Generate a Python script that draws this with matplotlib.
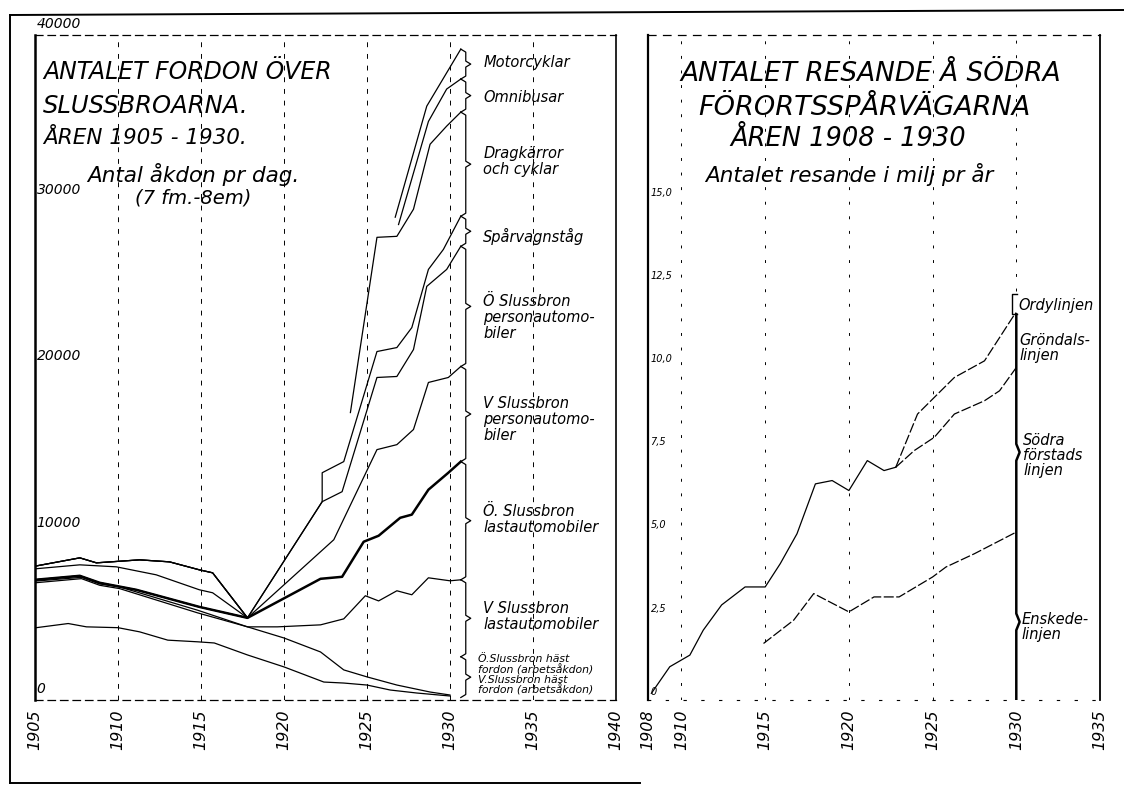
import matplotlib
matplotlib.use("Agg")
import matplotlib.pyplot as plt
from matplotlib.lines import Line2D
import numpy as np

W, H = 1124, 786
nan = np.nan

                 ## Data: vehicles per day over Slussbroarna (cumulative lines)
# the bundle before 1918 (top, middle and thick line)
pre_x_a = [1905, 1907.7, 1908.7, 1911.3, 1913.1, 1914.9, 1915.7, 1917.8]
pre_y_a = [8050, 8550, 8250, 8430, 8310, 7830, 7650, 4940]
pre_x_b = [1905, 1907.7, 1909.9, 1912.3, 1914.9, 1915.7, 1917.8]
pre_y_b = [7890, 8130, 8010, 7530, 6630, 6450, 4940]
pre_x_c = [1905, 1907.7, 1908.9, 1911.1, 1914.9, 1917.8]
pre_y_c = [7230, 7470, 7050, 6630, 5600, 4940]

hast_o_x = [1905, 1907, 1908.1, 1910, 1911.3, 1913, 1914.8, 1915.8, 1917.8,
            1920, 1922.4, 1923.6, 1925, 1926.4, 1928, 1930]
hast_o_y = [4340, 4600, 4400, 4350, 4100, 3600, 3500, 3430, 2710,
            1990, 1080, 1020, 900, 600, 420, 240]

hast_v_x = [1905, 1907.8, 1908.9, 1910.1, 1914.8, 1917.8, 1920, 1922.2,
            1923.6, 1925, 1926.8, 1928.8, 1930]
hast_v_y = [7050, 7300, 6900, 6700, 5240, 4400, 3730, 2890,
            1810, 1390, 900, 480, 300]

last_v_x = [1905, 1907.8, 1908.9, 1910.1, 1914.8, 1917.8, 1919.6, 1922.2, 1923.6,
            1924.9, 1925.7, 1926.8, 1927.7, 1928.7, 1930, 1930.65]
last_v_y = [7150, 7380, 6980, 6800, 5400, 4400, 4400, 4520, 4880,
            6270, 5960, 6570, 6330, 7350, 7170, 7230]

last_o_x = [1922.2, 1923.5, 1924.8, 1925.7, 1927, 1927.7, 1928.7, 1929.9, 1930.65]
last_o_y = [7290, 7410, 9520, 9880, 10960, 11150, 12650, 13670, 14340]

pers_v_x = [1923, 1925.6, 1926.8, 1927.8, 1928.7, 1929.9, 1930.65]
pers_v_y = [9640, 15060, 15360, 16270, 19100, 19400, 20060]

pers_o_x = [1922.3, 1923.5, 1925.6, 1926.8, 1927.8, 1928.6, 1929.8, 1930.65]
pers_o_y = [11930, 12530, 19400, 19460, 21080, 24880, 25900, 27290]

sparv_x = [1922.3, 1922.3, 1923.6, 1925.6, 1926.8, 1927.7, 1928.7, 1929.6, 1930.65]
sparv_y = [11930, 13670, 14340, 20960, 21200, 22400, 25900, 27100, 29100]

drag_x = [1924, 1925.6, 1926.8, 1927.8, 1928.8, 1929.8, 1930.65]
drag_y = [17290, 27830, 27890, 29520, 33430, 34520, 35360]

omni_x = [1926.9, 1928.7, 1929.8, 1930.65]
omni_y = [28600, 34800, 36750, 37350]

motor_x = [1926.7, 1928.6, 1930.65]
motor_y = [29040, 35720, 39150]

# brace bands at 1930 (lower, upper) and labels
band_lo = [37350, 35360, 29100, 27290, 20060, 14340, 7230, 2600, 150]
band_hi = [39150, 37350, 35360, 29100, 27290, 20060, 14340, 7230, 2600]
band_labels = ["Motorcyklar", "Omnibusar", "Dragkärror\noch cyklar", "Spårvagnståg",
               "Ö Slussbron\npersonautomo-\nbiler", "V Slussbron\npersonautomo-\nbiler",
               "Ö. Slussbron\nlastautomobiler", "V Slussbron\nlastautomobiler",
               "Ö.Slussbron häst\nfordon (arbetsåkdon)\nV.Slussbron häst\nfordon (arbetsåkdon)"]
band_text_y = [38370, 36270, 32410, 27890, 23010, 16870, 10840, 5000, 1500]

left_yticks = [0, 10000, 20000, 30000, 40000]
left_xticks = [1905, 1910, 1915, 1920, 1925, 1930, 1935, 1940]

                 ## Data: passengers on Södra förortsspårvägarna (milj per year)
trunk_x = [1908.2, 1909.3, 1910.5, 1911.3, 1912.4, 1913.8, 1915.0, 1915.9,
           1916.9, 1918.0, 1919.0, 1920.0, 1921.1, 1922.1, 1922.8]
trunk_y = [0.2, 1.0, 1.35, 2.1, 2.86, 3.4, 3.4, 4.1, 5.0, 6.5, 6.6, 6.3, 7.2, 6.9, 7.0]

upper_x = [1922.8, 1924.1, 1924.5, 1926.3, 1928.1, 1929.9, 1930.0]
upper_y = [7.0, 8.6, 8.8, 9.7, 10.2, 11.6, 11.65]

lower_x = [1922.8, 1923.9, 1925.1, 1926.3, 1928.1, 1929.0, 1930.0]
lower_y = [7.0, 7.5, 7.9, 8.6, 9.0, 9.3, 10.0]

enskede_x = [1914.9, 1916.7, 1917.9, 1920.0, 1921.5, 1923.0, 1925.0, 1925.8, 1927.5, 1930.0]
enskede_y = [1.7, 2.4, 3.2, 2.65, 3.1, 3.1, 3.7, 4.0, 4.4, 5.05]

right_yticks = [0, 2.5, 5, 7.5, 10, 12.5, 15]
right_ylabels = ["0", "2,5", "5,0", "7,5", "10,0", "12,5", "15,0"]
right_xticks = [1908, 1910, 1915, 1920, 1925, 1930, 1935]

plt.rcParams['font.family'] = ['DejaVu Sans']
plt.rcParams['font.style'] = 'italic'

fig = plt.figure(figsize=(W / 100, H / 100), dpi=100)
fig.patch.set_facecolor('white')


def px(x, y):
    return x / W, 1 - y / H


def fig_line(x0, y0, x1, y1, lw=1.4):
    a, b = px(x0, y0)
    c, d = px(x1, y1)
    fig.add_artist(Line2D([a, c], [b, d], color='k', lw=lw, transform=fig.transFigure))


def brace(ax, x, lo, hi, w, d, lw=0.9):
    m = (lo + hi) / 2
    xs = [x - w, x, x, x + w, x, x, x - w]
    ys = [hi, hi - d, m + d, m, m - d, lo + d, lo]
    ax.plot(xs, ys, color='k', lw=lw, clip_on=False)


# outer frame of the sheet
fig_line(10, 15, 1124, 10)
fig_line(10, 15, 10, 783)
fig_line(10, 783, 640, 783)

                 ## Left chart
ax1 = fig.add_axes([35 / W, 1 - 700 / H, 581 / W, 665 / H])
ax1.set_xlim(1905, 1940)
ax1.set_ylim(0, 40000)
ax1.set_xticks([])
ax1.set_yticks([])
ax1.spines['left'].set_linewidth(1.8)
ax1.spines['right'].set_linewidth(1.2)
for s in ['top', 'bottom']:
    ax1.spines[s].set_linestyle((0, (6, 4)))
    ax1.spines[s].set_linewidth(0.9)
for yr in left_xticks[1:-1]:
    ax1.axvline(yr, color='k', lw=0.7, ls=(0, (5, 7)))

lk = dict(color='k', lw=0.9)
ax1.plot(hast_o_x, hast_o_y, **lk)
ax1.plot(hast_v_x, hast_v_y, **lk)
ax1.plot(last_v_x, last_v_y, **lk)
ax1.plot(pre_x_c + last_o_x, pre_y_c + last_o_y, color='k', lw=1.8)
ax1.plot(pre_x_c + pers_v_x, pre_y_c + pers_v_y, **lk)
ax1.plot(pre_x_c + pers_o_x, pre_y_c + pers_o_y, **lk)
ax1.plot(pre_x_b + sparv_x, pre_y_b + sparv_y, **lk)
ax1.plot(pre_x_a + [nan] + drag_x, pre_y_a + [nan] + drag_y, **lk)
ax1.plot(pre_x_a + [nan] + omni_x, pre_y_a + [nan] + omni_y, **lk)
ax1.plot(pre_x_a + [nan] + motor_x, pre_y_a + [nan] + motor_y, **lk)

for lo, hi in zip(band_lo, band_hi):
    brace(ax1, 1930.95, lo, hi, 0.3, 180)
for i, (lab, ty) in enumerate(zip(band_labels, band_text_y)):
    small = i == len(band_labels) - 1
    ax1.text(1931.7 if small else 1932.0, ty, lab, fontsize=7.8 if small else 10.5,
             va='center', ha='left', linespacing=0.95 if small else 1.1)

for v in left_yticks:
    ax1.text(1905.1, v + 250, "%d" % v, fontsize=10, va='bottom', ha='left', clip_on=False)
for yr in left_xticks:
    ax1.text(yr, -600, str(yr), fontsize=11.5, rotation=90, va='top', ha='center', clip_on=False)

fig.text(*px(43, 72), "ANTALET FORDON ÖVER", fontsize=17, va='center')
fig.text(*px(43, 106), "SLUSSBROARNA.", fontsize=17.5, va='center')
fig.text(*px(43, 138), "ÅREN 1905 - 1930.", fontsize=15.5, va='center')
fig.text(*px(87, 175), "Antal åkdon pr dag.", fontsize=15.5, va='center')
fig.text(*px(135, 198), "(7 fm.-8em)", fontsize=14, va='center')

                 ## Right chart
ax2 = fig.add_axes([648 / W, 1 - 700 / H, 452 / W, 665 / H])
ax2.set_xlim(1908, 1935)
ax2.set_ylim(0, 20)
ax2.set_xticks([])
ax2.set_yticks([])
ax2.spines['left'].set_linewidth(1.6)
ax2.spines['right'].set_linewidth(1.3)
ax2.spines['top'].set_linestyle((0, (6, 6)))
ax2.spines['top'].set_linewidth(0.9)
ax2.spines['bottom'].set_linestyle((0, (2, 14)))
ax2.spines['bottom'].set_linewidth(0.8)
for yr in right_xticks[1:-2]:
    ax2.axvline(yr, color='k', lw=0.7, ls=(0, (3, 12)))
ax2.plot([1930, 1930], [12.3, 20], color='k', lw=0.7, ls=(0, (3, 12)))

dash = (0, (8, 2))
ax2.plot(trunk_x, trunk_y, color='k', lw=0.9)
ax2.plot(upper_x, upper_y, color='k', lw=0.9, ls=dash)
ax2.plot(lower_x, lower_y, color='k', lw=0.9, ls=dash)
ax2.plot(enskede_x, enskede_y, color='k', lw=0.9, ls=dash)

# the 1930 bracket line
ax2.plot([1930, 1930, 1930.2, 1930, 1930, 1930.2, 1930, 1930],
         [0, 2.1, 2.35, 2.6, 7.2, 7.45, 7.7, 11.6], color='k', lw=1.8)
ax2.plot([1930.05, 1929.75, 1929.75, 1930.05], [12.2, 12.2, 11.6, 11.6], color='k', lw=1.0)

ax2.text(1930.1, 11.85, "Ordylinjen", fontsize=10.5, va='center', ha='left')
ax2.text(1930.2, 10.6, "Gröndals-\nlinjen", fontsize=10.5, va='center', ha='left', linespacing=1.0)
ax2.text(1930.4, 7.35, "Södra\nförstads\nlinjen", fontsize=10.5, va='center', ha='left', linespacing=1.0)
ax2.text(1930.3, 2.2, "Enskede-\nlinjen", fontsize=10.5, va='center', ha='left', linespacing=1.0)

for v, lab in zip(right_yticks, right_ylabels):
    ax2.text(1908.15, v + 0.1, lab, fontsize=7, va='bottom', ha='left')
for yr in right_xticks:
    ax2.text(yr, -0.3, str(yr), fontsize=11.5, rotation=90, va='top', ha='center', clip_on=False)

fig.text(*px(680, 74), "ANTALET RESANDE Å SÖDRA", fontsize=19, va='center')
fig.text(*px(698, 108), "FÖRORTSSPÅRVÄGARNA", fontsize=19.5, va='center')
fig.text(*px(730, 139), "ÅREN 1908 - 1930", fontsize=18.5, va='center')
fig.text(*px(705, 174), "Antalet resande i milj pr år", fontsize=15.5, va='center')

fig.savefig("out.png", dpi=100, facecolor='white')
